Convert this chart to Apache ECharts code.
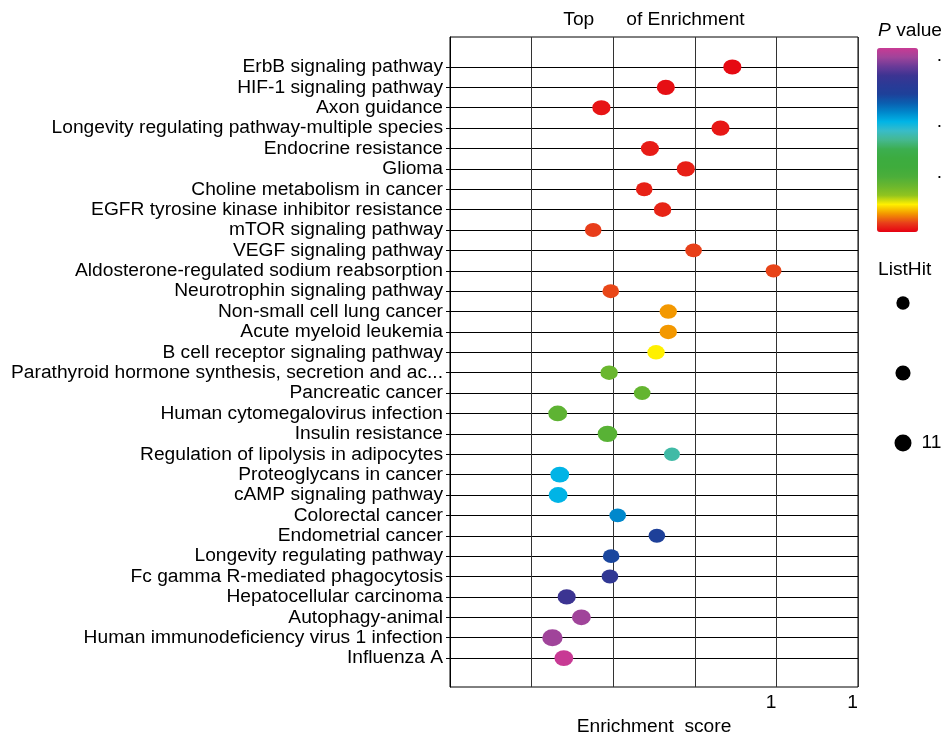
<!DOCTYPE html>
<html><head><meta charset="utf-8">
<script src="https://cdn.jsdelivr.net/npm/echarts@6/dist/echarts.min.js"></script>
<style>html,body{margin:0;padding:0;background:#fff}#c{width:944px;height:736px}</style>
</head><body><div id="c"></div>
<script>
const categories = [
  'ErbB signaling pathway',
  'HIF-1 signaling pathway',
  'Axon guidance',
  'Longevity regulating pathway-multiple species',
  'Endocrine resistance',
  'Glioma',
  'Choline metabolism in cancer',
  'EGFR tyrosine kinase inhibitor resistance',
  'mTOR signaling pathway',
  'VEGF signaling pathway',
  'Aldosterone-regulated sodium reabsorption',
  'Neurotrophin signaling pathway',
  'Non-small cell lung cancer',
  'Acute myeloid leukemia',
  'B cell receptor signaling pathway',
  'Parathyroid hormone synthesis, secretion and ac...',
  'Pancreatic cancer',
  'Human cytomegalovirus infection',
  'Insulin resistance',
  'Regulation of lipolysis in adipocytes',
  'Proteoglycans in cancer',
  'cAMP signaling pathway',
  'Colorectal cancer',
  'Endometrial cancer',
  'Longevity regulating pathway',
  'Fc gamma R-mediated phagocytosis',
  'Hepatocellular carcinoma',
  'Autophagy-animal',
  'Human immunodeficiency virus 1 infection',
  'Influenza A'
];
const enrichmentScore = [8.92, 7.29, 5.71, 8.63, 6.90, 7.78, 6.76, 7.21, 5.51, 7.97,
  9.93, 5.94, 7.35, 7.35, 7.05, 5.90, 6.71, 4.64, 5.86, 7.44,
  4.69, 4.65, 6.11, 7.07, 5.95, 5.92, 4.86, 5.22, 4.51, 4.79];
const pValues = [0.0004, 0.0006, 0.0008, 0.0009, 0.0011, 0.0012, 0.0013, 0.0014, 0.0024, 0.0025,
  0.0026, 0.0027, 0.0050, 0.0050, 0.0075, 0.0125, 0.0130, 0.0135, 0.0140, 0.0260,
  0.0300, 0.0300, 0.0325, 0.0375, 0.0370, 0.0410, 0.0425, 0.0475, 0.0475, 0.0500];
const listHit = [8, 8, 8, 8, 8, 8, 6, 7, 6, 6,
  5, 6, 7, 7, 7, 7, 6, 9, 10, 5,
  9, 9, 6, 6, 6, 6, 8, 9, 11, 9];
const xTicks = [2, 4, 6, 8, 10, 12];
const sizeLegendValues = [5, 8, 11];
const pLegendTicks = [0.048, 0.030, 0.016];
const titleText = 'Top 30 of Enrichment';

const P_MIN = 0, P_MAX = 0.05;
const gradient = ['#e60012','#e8401a','#f39800','#fff000','#8fc31f','#6ab72e','#4cae3a','#3fac3c',
  '#3cac40','#3cae50','#45b890','#38bcc8','#00b4e6','#0088cc','#0a5fb0','#1e4099','#2a3a96',
  '#3c3492','#6a3a98','#a0449a','#c83a94'];

const FONT = 'Liberation Sans';
const FS = 19.2;
const hideDigits = s => String(s).replace(/[02-9]/g, ch => '{h|' + ch + '}');
const hRich = { h: { color: 'rgba(0,0,0,0)', fontSize: FS, fontFamily: FONT } };
const hRichG = { h: { fill: 'rgba(0,0,0,0)', fontSize: FS, fontFamily: FONT } };
const dotH = v => 13.3 + 0.617 * (v - 5);
const fontStr = FS + 'px "Liberation Sans"';

const chart = echarts.init(document.getElementById('c'), null, { renderer: 'canvas' });

const barTop = 48, barH = 184;
const graphics = [
  { type: 'text', x: 654, y: 20, style: { text: hideDigits(titleText), rich: hRichG,
      font: fontStr, fill: '#000', align: 'center', verticalAlign: 'middle' } },
  { type: 'text', x: 878, y: 31, style: { text: '{i|P} value', rich: { i: { fontStyle: 'italic', fontSize: FS, fontFamily: FONT, fill: '#000' } },
      font: fontStr, fill: '#000', align: 'left', verticalAlign: 'middle' } },
  { type: 'text', x: 878, y: 270, style: { text: 'ListHit',
      font: fontStr, fill: '#000', align: 'left', verticalAlign: 'middle' } }
];
pLegendTicks.forEach(v => {
  graphics.push({ type: 'text', x: 926, y: barTop + (1 - (v - P_MIN) / (P_MAX - P_MIN)) * barH,
    style: { text: hideDigits(v.toFixed(3)), rich: hRichG, font: fontStr, fill: '#000',
      align: 'left', verticalAlign: 'middle' } });
});

chart.setOption({
  animation: false,
  textStyle: { fontFamily: FONT },
  grid: [
    { left: 450, right: 86, top: 37, bottom: 49, show: true, borderColor: '#000', borderWidth: 1,
      backgroundColor: 'transparent', outerBoundsMode: 'none', containLabel: false },
    { left: 890, width: 26, top: 268, height: 210, show: false, outerBoundsMode: 'none' }
  ],
  xAxis: [
    { type: 'value', gridIndex: 0, min: xTicks[0], max: xTicks[xTicks.length - 1], interval: 2,
      name: 'Enrichment  score', nameLocation: 'middle', nameGap: 30,
      nameTextStyle: { fontSize: FS, color: '#000', fontFamily: FONT },
      axisLine: { show: true, lineStyle: { color: '#000', width: 1 } },
      axisTick: { show: false },
      axisLabel: { fontSize: FS, color: '#000', margin: 6, formatter: v => hideDigits(v), rich: hRich },
      splitLine: { show: true, lineStyle: { color: '#333', width: 1 } } },
    { type: 'value', gridIndex: 1, min: -1, max: 1, show: false }
  ],
  yAxis: [
    { type: 'value', gridIndex: 0, inverse: true, min: -1.47, max: 30.42,
      axisLine: { show: true, lineStyle: { color: '#000', width: 1 } },
      axisTick: { show: true, length: 4, lineStyle: { color: '#000' }, customValues: categories.map((c, i) => i) },
      axisLabel: { fontSize: FS, color: '#000', margin: 7, fontFamily: FONT,
        customValues: categories.map((c, i) => i), formatter: v => categories[Math.round(v)] || '' },
      splitLine: { show: true, lineStyle: { color: '#000', width: 1 } } },
    { type: 'category', gridIndex: 1, inverse: true, data: sizeLegendValues.map(String), show: false }
  ],
  visualMap: [{
    type: 'continuous', seriesIndex: 0, dimension: 2, min: P_MIN, max: P_MAX,
    left: 877, top: barTop, itemWidth: 41, itemHeight: barH, padding: 0,
    calculable: false, showLabel: false, text: null, hoverLink: false,
    inRange: { color: gradient }
  }],
  graphic: graphics,
  series: [
    { type: 'scatter', xAxisIndex: 0, yAxisIndex: 0, z: 5,
      data: categories.map((c, i) => [enrichmentScore[i], i, pValues[i], listHit[i]]),
      symbol: 'circle',
      symbolSize: d => [1.2 * dotH(d[3]), dotH(d[3])],
      itemStyle: { opacity: 1 }, emphasis: { disabled: true } },
    { type: 'scatter', xAxisIndex: 1, yAxisIndex: 1,
      data: sizeLegendValues.map((v, i) => [0, i, v]),
      symbol: 'circle', symbolSize: d => dotH(d[2]),
      itemStyle: { color: '#000', opacity: 1 },
      label: { show: true, position: 'right', distance: 10, fontSize: FS, color: '#000', fontFamily: FONT,
        formatter: p => hideDigits(p.data[2]), rich: hRich },
      emphasis: { disabled: true } }
  ]
});
</script></body></html>
